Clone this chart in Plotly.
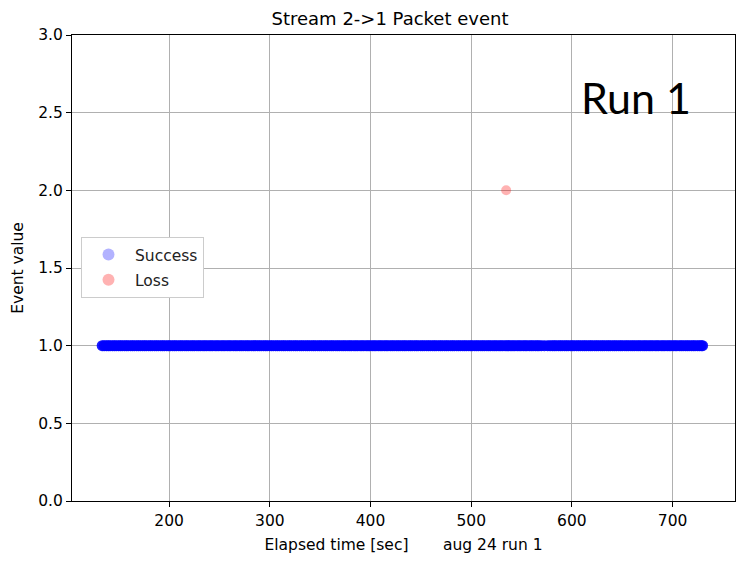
import plotly.graph_objects as go

success_times = [
    133.5,135.4,137.6,139.5,141.3,143.6,145.5,147.4,149.6,151.5,
    153.4,155.6,157.5,159.3,161.6,163.5,165.4,167.6,169.5,171.4,
    173.6,175.5,177.3,179.6,181.5,183.4,185.6,187.5,189.4,191.6,
    193.5,195.3,197.6,199.5,201.4,203.6,205.5,207.3,209.6,211.5,
    213.4,215.6,217.5,219.4,221.6,223.5,225.3,227.6,229.5,231.4,
    233.6,235.5,237.4,239.6,241.5,243.3,245.6,247.5,249.4,251.6,
    253.5,255.4,257.6,259.5,261.3,263.6,265.5,267.4,269.6,271.5,
    273.4,275.6,277.5,279.3,281.6,283.5,285.4,287.6,289.5,291.4,
    293.6,295.5,297.3,299.6,301.5,303.4,305.6,307.5,309.4,311.6,
    313.5,315.3,317.6,319.5,321.4,323.6,325.5,327.3,329.6,331.5,
    333.4,335.6,337.5,339.4,341.6,343.5,345.3,347.6,349.5,351.4,
    353.6,355.5,357.4,359.6,361.5,363.3,365.6,367.5,369.4,371.6,
    373.5,375.4,377.6,379.5,381.3,383.6,385.5,387.4,389.6,391.5,
    393.4,395.6,397.5,399.3,401.6,403.5,405.4,407.6,409.5,411.4,
    413.6,415.5,417.3,419.6,421.5,423.4,425.6,427.5,429.4,431.6,
    433.5,435.3,437.6,439.5,441.4,443.6,445.5,447.3,449.6,451.5,
    453.4,455.6,457.5,459.4,461.6,463.5,465.3,467.6,469.5,471.4,
    473.6,475.5,477.4,479.6,481.5,483.3,485.6,487.5,489.4,491.6,
    493.5,495.4,497.6,499.5,501.3,503.6,505.5,507.4,509.6,511.5,
    513.4,515.6,517.5,519.3,521.6,523.5,525.4,527.6,529.5,531.4,
    533.6,535.5,537.3,539.6,541.5,543.4,545.6,547.5,549.4,551.6,
    553.5,555.3,557.6,559.5,561.4,563.6,565.5,567.3,569.6,572.6,
    576.0,578.4,580.6,582.5,584.3,586.6,588.5,590.4,592.6,594.5,
    596.4,598.6,600.5,602.3,604.6,606.5,608.4,610.6,612.5,614.4,
    616.6,618.5,620.3,622.6,624.5,626.4,628.6,630.5,632.4,634.6,
    636.5,638.3,640.6,642.5,644.4,646.6,648.5,650.3,652.6,654.5,
    656.4,658.6,660.5,662.4,664.6,666.5,668.3,670.6,672.5,674.4,
    676.6,678.5,680.4,682.6,684.5,686.3,688.6,690.5,692.4,694.6,
    696.5,698.4,700.6,702.5,704.3,706.6,708.5,710.4,712.6,714.5,
    716.4,718.6,720.5,722.3,724.6,726.5,728.4,729.8,
]
success_values = [1.0 for _ in success_times]

loss_times = [534.7]
loss_values = [2.0]

title_text = "Stream 2->1 Packet event"
x_title = "Elapsed time [sec]       aug 24 run 1"
y_title = "Event value"
x_ticks = [200, 300, 400, 500, 600, 700]
y_ticks = [0.0, 0.5, 1.0, 1.5, 2.0, 2.5, 3.0]
run_label = "Run 1"

W, H = 740, 563
ML, MR, MT, MB = 72, 5, 35, 62
PW, PH = W - ML - MR, H - MT - MB

fig = go.Figure()
fig.add_trace(go.Scatter(
    x=success_times, y=success_values, mode="markers", name="Success",
    legendgroup="s",
    marker=dict(color="blue", size=11, opacity=0.3, line=dict(width=0)),
))
fig.add_trace(go.Scatter(
    x=success_times, y=success_values, mode="markers", name="Success",
    legendgroup="s", showlegend=False, hoverinfo="skip",
    marker=dict(color="blue", size=11, opacity=0.85, line=dict(width=0)),
))
fig.add_trace(go.Scatter(
    x=loss_times, y=loss_values, mode="markers", name="Loss",
    legendgroup="l",
    marker=dict(color="red", size=10, opacity=0.3, line=dict(width=0)),
))

tick_font = dict(family="DejaVu Sans", size=15.5, color="black")
axis_common = dict(
    showline=True, linecolor="black", linewidth=1, mirror=True,
    ticks="outside", ticklen=5, tickcolor="black",
    showgrid=True, gridcolor="#b0b0b0", gridwidth=1, zeroline=False,
    tickfont=tick_font,
)

fig.update_layout(
    width=W, height=H,
    margin=dict(l=ML, r=MR, t=MT, b=MB),
    paper_bgcolor="white", plot_bgcolor="white",
    font=dict(family="DejaVu Sans", size=15, color="black"),
    title=dict(text=title_text, x=(390 / W), xanchor="center", y=1 - 19 / H, yanchor="middle",
               font=dict(family="DejaVu Sans", size=18, color="black")),
    xaxis=dict(range=[103.5, 762], tickvals=x_ticks,
               title=dict(text=x_title, standoff=10,
                          font=dict(family="DejaVu Sans", size=15.5, color="black")),
               **axis_common),
    yaxis=dict(range=[0, 3.0], tickvals=y_ticks, tickformat=".1f",
               title=dict(text=y_title, standoff=10,
                          font=dict(family="DejaVu Sans", size=15.5, color="black")),
               **axis_common),
    legend=dict(x=(81 - ML) / PW, y=(H - MB - 237) / PH, xanchor="left", yanchor="top",
                bgcolor="white", bordercolor="#cccccc", borderwidth=1,
                font=dict(family="DejaVu Sans", size=15.5, color="#222222"),
                tracegroupgap=2, itemsizing="constant", itemwidth=43),
    showlegend=True,
    annotations=[dict(
        text=run_label, xref="paper", yref="paper",
        x=(636 - ML) / PW, y=(H - MB - 97) / PH,
        xanchor="center", yanchor="middle", showarrow=False,
        font=dict(family="Lato", size=43, color="black"),
    )],
)

fig.write_html(
    "out.html",
    config={"displayModeBar": False},
    post_script="document.body.style.margin='0';document.body.style.overflow='hidden';",
)
